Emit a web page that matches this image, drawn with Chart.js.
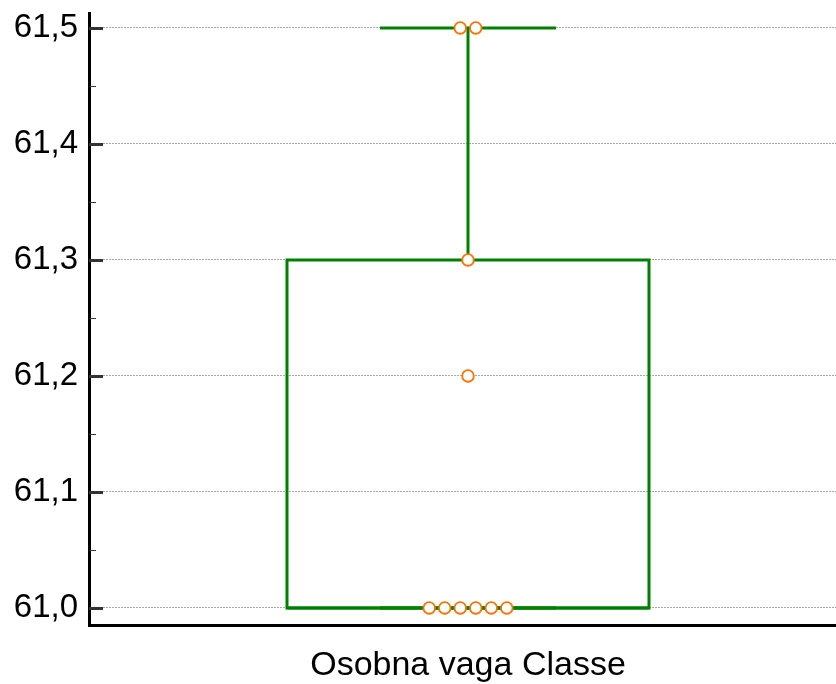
<!DOCTYPE html>
<html>
<head>
<meta charset="utf-8">
<script src="https://cdn.jsdelivr.net/npm/chart.js@4/dist/chart.umd.min.js"></script>
<style>
  body { margin: 0; background: #fff; }
  canvas { display: block; }
</style>
</head>
<body>
<canvas id="boxChart" width="836" height="684"></canvas>
<script>
// Box plot data
const categories = ['Osobna vaga Classe'];
const observations = [[61.5, 61.5, 61.3, 61.2, 61.0, 61.0, 61.0, 61.0, 61.0, 61.0]];
const q1 = [61.0];
const median = [61.0];
const q3 = [61.3];
const whiskerLow = [61.0];
const whiskerHigh = [61.5];

const yTickValues = [61.0, 61.1, 61.2, 61.3, 61.4, 61.5];
const yTickLabels = ['61,0', '61,1', '61,2', '61,3', '61,4', '61,5'];
const yMinorTicks = [61.05, 61.15, 61.25, 61.35, 61.45];

const green = '#008000';
const orange = '#ff7000';
const font = 'Liberation Sans, Arial, sans-serif';

// x is in "pixel-like" units, box centred at 0
const boxHalf = 181;
const capHalf = 88;
const dotGap = 15.5;

// spread equal values side by side (simple beeswarm)
function swarm(values) {
  const groups = {};
  values.forEach(v => { (groups[v] = groups[v] || []).push(v); });
  const pts = [];
  Object.keys(groups).forEach(k => {
    const n = groups[k].length;
    groups[k].forEach((v, i) => pts.push({ x: (i - (n - 1) / 2) * dotGap, y: v }));
  });
  return pts;
}

const i = 0;
const lineStyle = { type: 'scatter', showLine: true, borderColor: green, borderWidth: 3,
  pointRadius: 0, pointHoverRadius: 0, order: 1 };

const datasets = [
  {
    type: 'scatter',
    data: swarm(observations[i]),
    pointRadius: 5.8,
    pointHoverRadius: 5.8,
    borderWidth: 1.8,
    borderColor: orange,
    backgroundColor: '#ffffff',
    order: 0
  },
  Object.assign({}, lineStyle, {
    borderCapStyle: 'square',
    borderJoinStyle: 'miter',
    data: [
      { x: -boxHalf, y: q1[i] }, { x: -boxHalf, y: q3[i] },
      { x: boxHalf, y: q3[i] }, { x: boxHalf, y: q1[i] }, { x: -boxHalf, y: q1[i] }
    ]
  }),
  Object.assign({}, lineStyle, { data: [{ x: -boxHalf, y: median[i] }, { x: boxHalf, y: median[i] }] }),
  Object.assign({}, lineStyle, { data: [{ x: 0, y: q3[i] }, { x: 0, y: whiskerHigh[i] }] }),
  Object.assign({}, lineStyle, { data: [{ x: -capHalf, y: whiskerHigh[i] }, { x: capHalf, y: whiskerHigh[i] }] }),
  Object.assign({}, lineStyle, { data: [{ x: 0, y: q1[i] }, { x: 0, y: whiskerLow[i] }] }),
  Object.assign({}, lineStyle, { data: [{ x: -capHalf, y: whiskerLow[i] }, { x: capHalf, y: whiskerLow[i] }] })
];

// tick marks pointing into the plot, like the original
const innerTicks = {
  id: 'innerTicks',
  beforeDatasetsDraw(chart) {
    const { ctx, chartArea, scales: { y } } = chart;
    ctx.save();
    ctx.strokeStyle = '#333';
    ctx.lineWidth = 3;
    yTickValues.forEach(v => {
      const py = Math.round(y.getPixelForValue(v)) + 0.5;
      ctx.beginPath();
      ctx.moveTo(chartArea.left, py);
      ctx.lineTo(chartArea.left + 14, py);
      ctx.stroke();
    });
    ctx.lineWidth = 1;
    yMinorTicks.forEach(v => {
      const py = Math.round(y.getPixelForValue(v)) + 0.5;
      ctx.beginPath();
      ctx.moveTo(chartArea.left, py);
      ctx.lineTo(chartArea.left + 7, py);
      ctx.stroke();
    });
    ctx.restore();
  }
};

new Chart(document.getElementById('boxChart'), {
  type: 'scatter',
  data: { datasets },
  options: {
    responsive: false,
    animation: false,
    events: [],
    layout: { autoPadding: false, padding: { top: 13, left: 0, right: 0, bottom: 0 } },
    plugins: { legend: { display: false }, tooltip: { enabled: false } },
    scales: {
      x: {
        type: 'linear',
        min: -379,
        max: 368,
        grid: { display: true, drawOnChartArea: false, drawTicks: false },
        border: { display: true, color: '#000', width: 3 },
        afterBuildTicks: s => { s.ticks = [{ value: 0 }]; },
        afterFit: s => { s.height = 59; s.paddingLeft = 0; s.paddingRight = 0; },
        ticks: {
          padding: 20,
          color: '#000',
          font: { family: font, size: 34 },
          callback: (v, idx) => categories[idx]
        }
      },
      y: {
        type: 'linear',
        min: 60.9853,
        max: 61.5129,
        grid: { color: '#a8a8a8', lineWidth: 1, drawTicks: false },
        border: { display: true, color: '#000', width: 3, dash: [2, 1] },
        afterBuildTicks: s => { s.ticks = yTickValues.map(v => ({ value: v })); },
        afterFit: s => { s.width = 89; s.paddingTop = 0; s.paddingBottom = 0; },
        ticks: {
          padding: 11,
          color: '#000',
          font: { family: font, size: 33 },
          callback: (v, idx) => yTickLabels[idx]
        }
      }
    }
  },
  plugins: [innerTicks]
});
</script>
</body>
</html>
